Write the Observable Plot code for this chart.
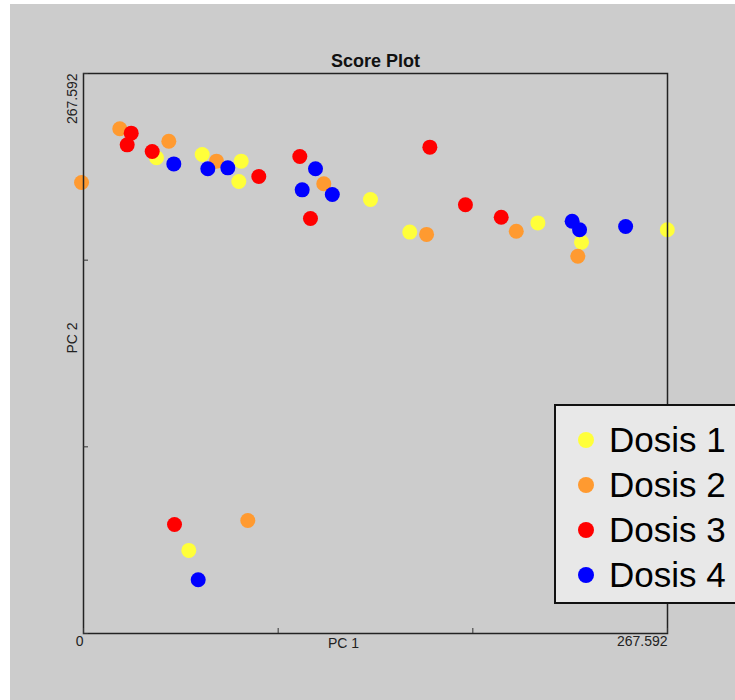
<!DOCTYPE html>
<html>
<head>
<meta charset="utf-8">
<script src="https://cdn.jsdelivr.net/npm/d3@7"></script>
<script src="https://cdn.jsdelivr.net/npm/@observablehq/plot@0.6"></script>
<style>
  html, body { margin: 0; padding: 0; background: #ffffff; overflow: hidden; }
  #page { position: relative; width: 735px; height: 700px; overflow: hidden; font-family: "Liberation Sans", Arial, Helvetica, sans-serif; }
  #bg { position: absolute; left: 10px; top: 4px; width: 725px; height: 696px; background: #cccccc; }
  #chart { position: absolute; left: 0; top: 0; }
  #legend { position: absolute; left: 554px; top: 404px; width: 220px; height: 196px; background: #e8e8e8; border: 2px solid #111; box-sizing: content-box; }
  .item { position: absolute; left: 0; height: 45px; display: flex; align-items: center; font-size: 35px; color: #000; white-space: nowrap; }
  .sw { display: inline-block; width: 16px; height: 16px; border-radius: 50%; margin-left: 22px; margin-right: 15px; }
</style>
</head>
<body>
<div id="page">
  <div id="bg"></div>
  <div id="chart"></div>
  <div id="legend"></div>
</div>
<script>
// Series names and colours
const dosisNames = ["Dosis 1", "Dosis 2", "Dosis 3", "Dosis 4"];
const dosisColors = ["#ffff3a", "#ff9a30", "#ff0000", "#0000ff"];

// Scores [PC1, PC2] per group
const dosis1 = [[33.45,227.3],[54.39,228.9],[72.26,225.7],[71.16,216.0],[131.5,207.4],[149.5,191.8],[208.2,196.2],[228.2,187.0],[267.5,192.9],[48.25,39.7]];
const dosis2 = [[16.63,241.2],[39.09,235.2],[60.94,225.7],[110.1,214.9],[-0.9,215.5],[157.2,190.7],[198.3,192.2],[226.5,180.3],[75.28,54.0]];
const dosis3 = [[21.86,239.1],[20.02,233.5],[31.48,230.3],[80.32,218.4],[99.11,227.9],[104.0,198.3],[158.7,232.4],[175.0,204.9],[191.4,198.9],[41.70,52.1]];
const dosis4 = [[41.38,224.4],[56.96,222.1],[66.12,222.5],[106.3,222.1],[100.2,212.0],[114.0,209.8],[223.9,197.0],[227.3,192.9],[248.4,194.5],[52.56,25.7]];

// Axis ticks and labels
const axisMax = 267.592;
const xTicks = [0, 89.197, 178.395, 267.592];
const yTicks = [0, 89.197, 178.395, 267.592];
const xTickLabels = [{v: 0, label: "0"}, {v: 267.592, label: "267.592"}];
const yTickLabels = [{v: 267.592, label: "267.592"}];
const titleText = "Score Plot";
const xLabel = "PC 1";
const yLabel = "PC 2";

const groups = [dosis1, dosis2, dosis3, dosis4];
const points = groups.flatMap((g, i) => g.map(([x, y]) => ({x, y, dosis: dosisNames[i]})));

const font = '"Liberation Sans", Arial, Helvetica, sans-serif';

const chart = Plot.plot({
  width: 735,
  height: 700,
  marginLeft: 83,
  marginRight: 68,
  marginTop: 73,
  marginBottom: 67,
  style: {background: "transparent", fontFamily: font, color: "#222"},
  x: {domain: [0, axisMax], axis: null},
  y: {domain: [0, axisMax], axis: null},
  color: {domain: dosisNames, range: dosisColors},
  marks: [
    Plot.dot(points, {x: "x", y: "y", fill: "dosis", r: 7.5, stroke: "none"}),
    Plot.frame({stroke: "#222", strokeWidth: 1.5}),
    Plot.tickX(xTicks, {x: d => d, insetTop: 555, stroke: "#333", strokeWidth: 1}),
    Plot.tickY(yTicks, {y: d => d, insetRight: 579, stroke: "#333", strokeWidth: 1}),
    Plot.text(xTickLabels, {x: "v", text: "label", frameAnchor: "bottom", lineAnchor: "middle", dy: 8, textAnchor: "end", fontSize: 14, fill: "#222"}),
    Plot.text(yTickLabels, {y: "v", text: "label", frameAnchor: "left", lineAnchor: "middle", dx: -11, rotate: -90, textAnchor: "end", fontSize: 14, fill: "#222"}),
    Plot.text([xLabel], {text: d => d, frameAnchor: "bottom", lineAnchor: "middle", dy: 10, dx: -32, fontSize: 14, fill: "#222"}),
    Plot.text([yLabel], {text: d => d, frameAnchor: "left", lineAnchor: "middle", dx: -11, rotate: -90, fontSize: 14, fill: "#222"}),
    Plot.text([titleText], {text: d => d, frameAnchor: "top", lineAnchor: "middle", dy: -12, fontSize: 18, fontWeight: "bold", fill: "#111"})
  ]
});
document.getElementById("chart").appendChild(chart);

// Legend
const legend = document.getElementById("legend");
dosisNames.forEach((name, i) => {
  const item = document.createElement("div");
  item.className = "item";
  item.style.top = (11 + i * 45) + "px";
  const sw = document.createElement("span");
  sw.className = "sw";
  sw.style.background = dosisColors[i];
  item.appendChild(sw);
  item.appendChild(document.createTextNode(name));
  legend.appendChild(item);
});
</script>
</body>
</html>
